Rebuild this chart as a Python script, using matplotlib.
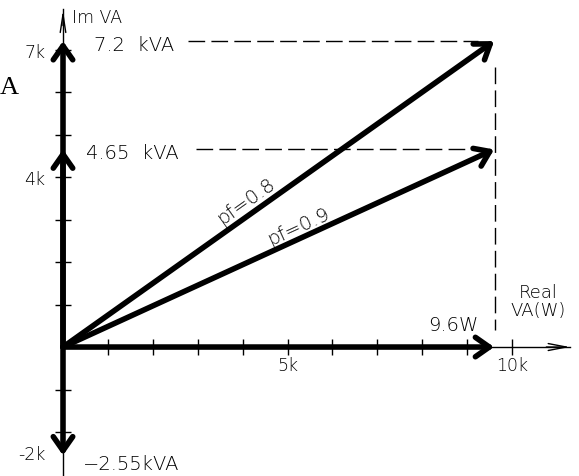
import numpy as np
import matplotlib
matplotlib.use("Agg")
import matplotlib.pyplot as plt
from matplotlib.transforms import ScaledTranslation

# phasor data (kVA / kW)
real_power = 9.6
apparent = [7.2, 4.65]          # reactive components shown at tips
pf_labels = ["pf=0.8", "pf=0.9"]
q_neg = -2.55
kva_labels = ["7.2  kVA", "4.65  kVA"]
xticks = list(range(1, 11))
yticks = [t for t in range(-2, 8) if t != 0]
xtick_labels = {5: "5k", 10: "10k"}
ytick_labels = {7: "7k", 4: "4k", -2: "-2k"}

plt.rcParams['font.family'] = ['DejaVu Sans']
plt.rcParams['font.weight'] = 'light'
fig = plt.figure(figsize=(5.79, 4.77), dpi=100)
ax = fig.add_axes([0, 0, 1, 1])
ax.set_xlim(-1.403, 11.49)
ax.set_ylim(-3.035, 8.19)

for s in ['top', 'right']:
    ax.spines[s].set_visible(False)
ax.spines['left'].set_position(('data', 0))
ax.spines['bottom'].set_position(('data', 0))
ax.spines['left'].set_bounds(-3.1, 7.95)
ax.spines['bottom'].set_bounds(0, 11.3)
ax.spines['left'].set_linewidth(1)
ax.spines['bottom'].set_linewidth(1)

ax.set_xticks(xticks)
ax.set_xticklabels([xtick_labels.get(t, "") for t in xticks])
ax.set_yticks(yticks)
ax.set_yticklabels([ytick_labels.get(t, "") for t in yticks])
ax.tick_params(axis='both', direction='inout', length=11, width=1,
               labelsize=12.5, colors='black')
ax.tick_params(axis='x', pad=1)
ax.tick_params(axis='y', pad=7)
# the -2k label sits lower, next to the arrow tip
for t, lab in zip(yticks, ax.get_yticklabels()):
    if t == -2:
        lab.set_transform(lab.get_transform() + ScaledTranslation(0, -0.2, fig.dpi_scale_trans))

# thin open arrowheads on axes
ax.annotate("", xy=(11.35, 0), xytext=(10.7, 0),
            arrowprops=dict(arrowstyle='->,head_length=1.3,head_width=0.25', lw=1))
ax.annotate("", xy=(0, 8.0), xytext=(0, 7.5),
            arrowprops=dict(arrowstyle='->,head_length=1.3,head_width=0.2', lw=1))

thick = dict(arrowstyle='->,head_length=1.0,head_width=0.7', lw=4,
             color='black', shrinkA=0, shrinkB=0)

# thick phasors
ax.annotate("", xy=(real_power, 0), xytext=(0, 0), arrowprops=thick)
ax.annotate("", xy=(0, apparent[0]), xytext=(0, 0), arrowprops=thick)
ax.annotate("", xy=(0, apparent[1]), xytext=(0, 0), arrowprops=thick)
ax.annotate("", xy=(0, q_neg), xytext=(0, 0), arrowprops=thick)
for q in apparent:
    ax.annotate("", xy=(real_power, q), xytext=(0, 0), arrowprops=thick)

# dashed guide lines
dash = (0, (12, 4.5))
ax.plot([2.78, real_power - 0.35], [apparent[0]] * 2, color='black', lw=1, ls=dash)
ax.plot([2.97, real_power - 0.35], [apparent[1]] * 2, color='black', lw=1, ls=dash)
ax.plot([real_power + 0.02] * 2, [apparent[0] - 0.6, 0.4], color='black', lw=1, ls=dash)

# labels
fs = 14
ax.text(0.7, 7.13, kva_labels[0], fontsize=fs, va='center', ha='left')
ax.text(0.52, 4.58, kva_labels[1], fontsize=fs, va='center', ha='left')
ax.text(0.2, 7.76, "Im VA", fontsize=12.5, va='center', ha='left')
ax.text(0.45, -2.74, "\u22122.55kVA", fontsize=fs, va='center', ha='left')
ax.text(9.25, 0.54, "9.6W", fontsize=fs, va='center', ha='right')
ax.text(10.58, 1.08, "Real\nVA(W)", fontsize=13, va='center', ha='center',
        linespacing=1.05)
ax.text(-1.40, 6.12, "A", fontsize=19, family='Liberation Serif', va='center', ha='left')

# rotated pf labels along phasors
for q, lab, pos in zip(apparent, pf_labels, [(4.08, 3.45), (5.25, 2.85)]):
    p0 = ax.transData.transform((0, 0))
    p1 = ax.transData.transform((real_power, q))
    ang = np.degrees(np.arctan2(p1[1] - p0[1], p1[0] - p0[0]))
    ax.text(pos[0], pos[1], lab, fontsize=fs, rotation=ang, ha='center', va='center',
            rotation_mode='anchor')

fig.savefig("out.png", dpi=100)
